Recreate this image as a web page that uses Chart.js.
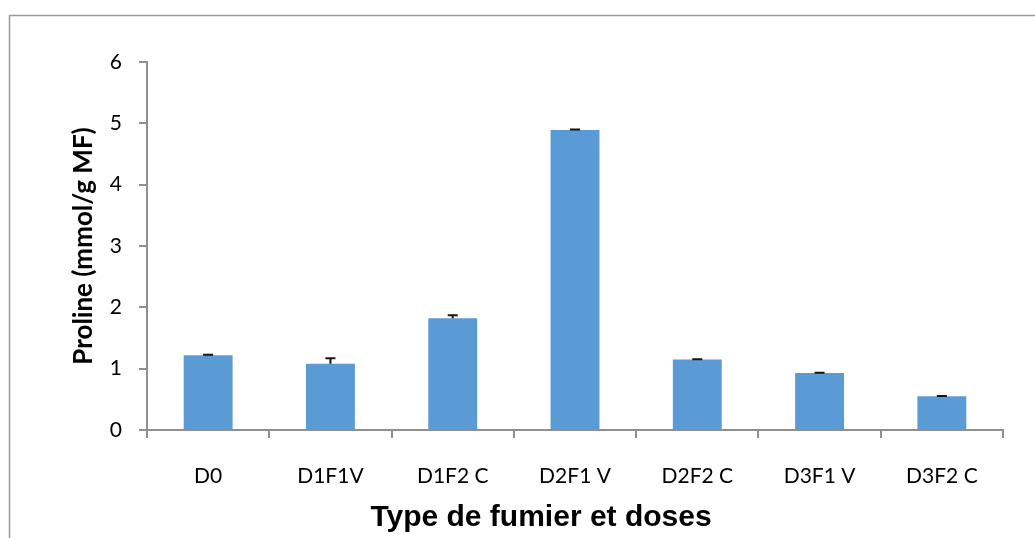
<!DOCTYPE html>
<html>
<head>
<meta charset="utf-8">
<script src="https://cdn.jsdelivr.net/npm/chart.js@4.4.1/dist/chart.umd.min.js"></script>
<style>
  html, body { margin: 0; padding: 0; background: #fff; }
  #wrap { width: 1035px; height: 538px; position: relative; }
</style>
</head>
<body>
<div id="wrap"><canvas id="prolineChart"></canvas></div>
<script>
// Teneur en proline selon le type de fumier et la dose
const traitements = ['D0', 'D1F1V', 'D1F2 C', 'D2F1 V', 'D2F2 C', 'D3F1 V', 'D3F2 C'];
const proline = [1.22, 1.08, 1.82, 4.89, 1.15, 0.93, 0.55];
const erreurs = [0.005, 0.09, 0.05, 0.01, 0.005, 0.005, 0.005];
const yTicks = [0, 1, 2, 3, 4, 5, 6];

const titreX = 'Type de fumier et doses';
const titreY = 'Proline (mmol/g MF)';

const gris = '#8f8f8f';

// cadre gris autour du graphique
const cadre = {
  id: 'cadre',
  beforeDraw(chart) {
    const ctx = chart.ctx;
    ctx.save();
    ctx.strokeStyle = '#9a9a9a';
    ctx.lineWidth = 1.5;
    ctx.beginPath();
    ctx.moveTo(9.5, chart.height + 2);
    ctx.lineTo(9.5, 15.5);
    ctx.lineTo(chart.width + 2, 15.5);
    ctx.stroke();
    ctx.restore();
  }
};

// barres d'erreur (partie positive) + titre de l'axe X
const barresErreur = {
  id: 'barresErreur',
  afterDatasetsDraw(chart) {
    const ctx = chart.ctx;
    const y = chart.scales.y;
    const meta = chart.getDatasetMeta(0);
    ctx.save();
    ctx.strokeStyle = '#151515';
    ctx.lineWidth = 2;
    meta.data.forEach((bar, i) => {
      const yHaut = y.getPixelForValue(proline[i] + erreurs[i]);
      const yBas = y.getPixelForValue(proline[i]);
      ctx.beginPath();
      ctx.moveTo(bar.x, yBas);
      ctx.lineTo(bar.x, yHaut);
      ctx.moveTo(bar.x - 5, yHaut);
      ctx.lineTo(bar.x + 5, yHaut);
      ctx.stroke();
    });
    ctx.restore();
  },
  afterDraw(chart) {
    const ctx = chart.ctx;
    ctx.save();
    ctx.fillStyle = '#000';
    ctx.font = 'bold 30px "Liberation Sans", Arial, sans-serif';
    ctx.textAlign = 'center';
    ctx.textBaseline = 'middle';
    ctx.fillText(titreX, 541, 518);
    ctx.restore();
  }
};

new Chart(document.getElementById('prolineChart'), {
  type: 'bar',
  data: {
    labels: traitements,
    datasets: [{
      label: 'Proline',
      data: proline,
      backgroundColor: '#5b9bd5',
      borderWidth: 0,
      categoryPercentage: 1,
      barPercentage: 0.4
    }]
  },
  options: {
    responsive: true,
    maintainAspectRatio: false,
    animation: false,
    layout: { padding: { top: 62, right: 32, left: 0, bottom: 0 } },
    plugins: {
      legend: { display: false },
      tooltip: { enabled: false }
    },
    scales: {
      x: {
        grid: { offset: true, drawOnChartArea: false, drawTicks: true, tickLength: 8, color: gris, lineWidth: 2 },
        border: { display: true, color: gris, width: 2 },
        ticks: { color: '#000', padding: 26, font: { family: 'Lato', size: 21 } },
        afterFit(scale) { scale.height = 108; }
      },
      y: {
        min: 0,
        max: 6,
        afterBuildTicks(scale) { scale.ticks = yTicks.map(v => ({ value: v })); },
        grid: { drawOnChartArea: false, drawTicks: true, tickLength: 8, color: gris, lineWidth: 2 },
        border: { display: true, color: gris, width: 2 },
        ticks: { color: '#000', padding: 17, font: { family: 'Lato', size: 21 } },
        title: {
          display: true,
          text: titreY,
          color: '#000',
          font: { family: 'Lato', size: 26, weight: 'bold' },
          padding: { top: 68, bottom: 0 }
        },
        afterFit(scale) { scale.width = 147; }
      }
    }
  },
  plugins: [cadre, barresErreur]
});
</script>
</body>
</html>
